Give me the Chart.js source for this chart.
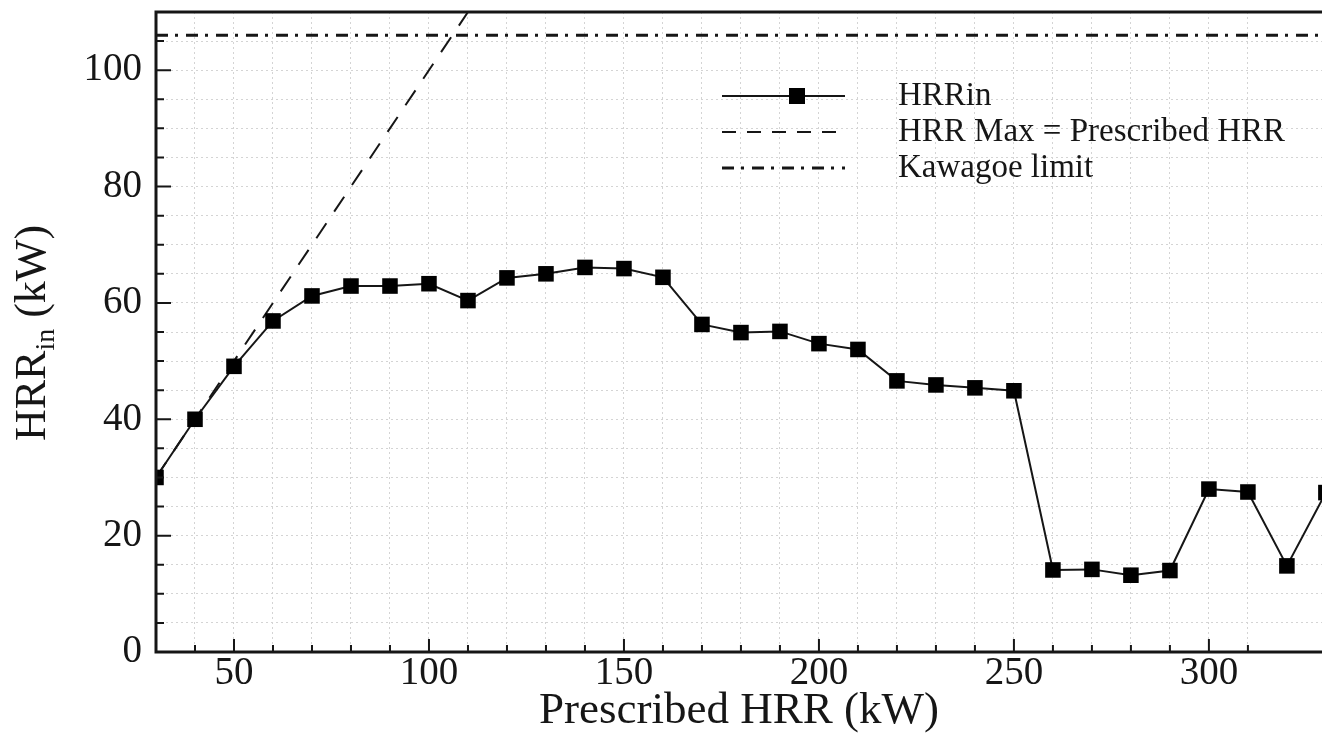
<!DOCTYPE html>
<html>
<head>
<meta charset="utf-8">
<script src="https://cdn.jsdelivr.net/npm/chart.js@4/dist/chart.umd.min.js"></script>
<style>
  html, body { margin: 0; padding: 0; background: #fff; }
  #wrap { width: 1322px; height: 737px; }
</style>
</head>
<body>
<div id="wrap"><canvas id="hrrchart"></canvas></div>
<script>
// data
const prescribed = [30, 40, 50, 60, 70, 80, 90, 100, 110, 120, 130, 140, 150, 160, 170,
    180, 190, 200, 210, 220, 230, 240, 250, 260, 270, 280, 290, 300, 310, 320, 330];
const hrrIn = [30.0, 40.0, 49.1, 56.9, 61.2, 62.9, 62.9, 63.3, 60.4, 64.3, 65.0, 66.1, 65.9, 64.4, 56.3,
    54.9, 55.1, 53.0, 52.0, 46.6, 45.9, 45.4, 44.9, 14.1, 14.2, 13.2, 14.0, 28.0, 27.5, 14.8, 27.4];
const idealX = [30, 110];
const idealY = [30, 110];
const kawagoeX = [30, 330];
const kawagoeY = [106, 106];
const xTickLabels = [50, 100, 150, 200, 250, 300];
const yTickLabels = [0, 20, 40, 60, 80, 100];
const legendLabels = ['HRRin', 'HRR Max = Prescribed HRR', 'Kawagoe limit'];

const serif = "'Liberation Serif', 'DejaVu Serif', serif";
const ink = '#161616';

const toPoints = (xs, ys) => xs.map((x, i) => ({ x: x, y: ys[i] }));

// frame, inward ticks, legend and y title
const decorPlugin = {
    id: 'decor',
    afterDraw(chart) {
        const ctx = chart.ctx;
        const area = chart.chartArea;
        const xs = chart.scales.x;
        const ys = chart.scales.y;
        ctx.save();
        ctx.strokeStyle = ink;

        // inward ticks
        ctx.lineWidth = 2;
        ctx.beginPath();
        xs.ticks.forEach(t => {
            if (t.value <= xs.min || t.value % 10 !== 0) return;
            const px = xs.getPixelForValue(t.value);
            const len = xTickLabels.includes(t.value) ? 13 : 7;
            ctx.moveTo(px, area.bottom);
            ctx.lineTo(px, area.bottom - len);
        });
        ys.ticks.forEach(t => {
            if (t.value <= ys.min || t.value >= ys.max) return;
            const py = ys.getPixelForValue(t.value);
            const len = yTickLabels.includes(t.value) ? 15 : 8;
            ctx.moveTo(area.left, py);
            ctx.lineTo(area.left + len, py);
        });
        ctx.stroke();

        // frame
        ctx.lineWidth = 3;
        ctx.beginPath();
        ctx.moveTo(area.left, area.top);
        ctx.lineTo(area.right + 2, area.top);
        ctx.moveTo(area.left, area.top - 1.5);
        ctx.lineTo(area.left, area.bottom);
        ctx.lineTo(area.right + 2, area.bottom);
        ctx.stroke();

        // legend
        const rows = [96, 132, 168];
        const x0 = 722, x1 = 845, tx = 898;
        ctx.lineWidth = 2;
        ctx.beginPath();
        ctx.moveTo(x0, rows[0]);
        ctx.lineTo(x1, rows[0]);
        ctx.stroke();
        ctx.fillStyle = '#000';
        ctx.fillRect(789, rows[0] - 8, 16, 16);

        ctx.setLineDash([14, 11]);
        ctx.beginPath();
        ctx.moveTo(x0, rows[1]);
        ctx.lineTo(x1, rows[1]);
        ctx.stroke();

        ctx.lineWidth = 3;
        ctx.setLineDash([12, 7, 3, 8]);
        ctx.beginPath();
        ctx.moveTo(x0, rows[2]);
        ctx.lineTo(x1, rows[2]);
        ctx.stroke();
        ctx.setLineDash([]);

        ctx.fillStyle = ink;
        ctx.font = '33px ' + serif;
        ctx.textBaseline = 'middle';
        ctx.textAlign = 'left';
        legendLabels.forEach((txt, i) => ctx.fillText(txt, tx, rows[i]));

        // y title with subscript
        ctx.translate(45, 333);
        ctx.rotate(-Math.PI / 2);
        ctx.textBaseline = 'alphabetic';
        const big = '44px ' + serif;
        const small = '28px ' + serif;
        ctx.font = big;
        const w1 = ctx.measureText('HRR').width;
        const w3 = ctx.measureText(' (kW)').width;
        ctx.font = small;
        const w2 = ctx.measureText('in').width;
        let cx = -(w1 + w2 + w3) / 2;
        ctx.font = big;
        ctx.fillText('HRR', cx, 0);
        cx += w1;
        ctx.font = small;
        ctx.fillText('in', cx, 9);
        cx += w2;
        ctx.font = big;
        ctx.fillText(' (kW)', cx, 0);
        ctx.restore();
    }
};

const ctx = document.getElementById('hrrchart').getContext('2d');

const hrrChart = new Chart(ctx, {
    type: 'line',
    data: {
        datasets: [
            {
                label: legendLabels[0],
                data: toPoints(prescribed, hrrIn),
                borderColor: ink,
                borderWidth: 2,
                pointStyle: 'rect',
                pointRadius: 11,
                pointHoverRadius: 11,
                pointBackgroundColor: '#000',
                pointBorderColor: '#000',
                pointBorderWidth: 0,
                tension: 0,
                order: 0
            },
            {
                label: legendLabels[1],
                data: toPoints(idealX, idealY),
                borderColor: ink,
                borderWidth: 2,
                borderDash: [18, 14],
                pointRadius: 0,
                order: 1
            },
            {
                label: legendLabels[2],
                data: toPoints(kawagoeX, kawagoeY),
                borderColor: ink,
                borderWidth: 3,
                borderDash: [12, 7, 3, 8],
                pointRadius: 0,
                order: 2
            }
        ]
    },
    options: {
        responsive: true,
        maintainAspectRatio: false,
        animation: false,
        layout: { autoPadding: false, padding: { top: 12, right: 0, left: 0, bottom: 0 } },
        plugins: {
            legend: { display: false },
            tooltip: { enabled: false }
        },
        scales: {
            x: {
                type: 'linear',
                min: 30,
                max: 329,
                afterFit: scale => {
                    scale.height = 85;
                    scale.paddingLeft = 0;
                    scale.paddingRight = 0;
                },
                grid: {
                    color: '#d4d4d4',
                    lineWidth: 1,
                    drawTicks: false
                },
                border: { display: false, dash: [2, 3] },
                ticks: {
                    stepSize: 10,
                    padding: 2,
                    color: ink,
                    font: { family: serif, size: 39, lineHeight: 1 },
                    maxRotation: 0,
                    autoSkip: false,
                    callback: v => xTickLabels.includes(v) ? String(v) : ''
                },
                title: {
                    display: true,
                    text: 'Prescribed HRR (kW)',
                    color: ink,
                    font: { family: serif, size: 45, lineHeight: 1 },
                    padding: { top: 0, bottom: 3 }
                }
            },
            y: {
                type: 'linear',
                min: 0,
                max: 110,
                afterFit: scale => {
                    scale.width = 156;
                    scale.paddingTop = 0;
                    scale.paddingBottom = 0;
                },
                grid: {
                    color: '#d4d4d4',
                    lineWidth: 1,
                    drawTicks: false
                },
                border: { display: false, dash: [2, 3] },
                ticks: {
                    stepSize: 5,
                    padding: 14,
                    color: ink,
                    font: { family: serif, size: 39 },
                    autoSkip: false,
                    callback: v => yTickLabels.includes(v) ? String(v) : ''
                }
            }
        }
    },
    plugins: [decorPlugin]
});
</script>
</body>
</html>
